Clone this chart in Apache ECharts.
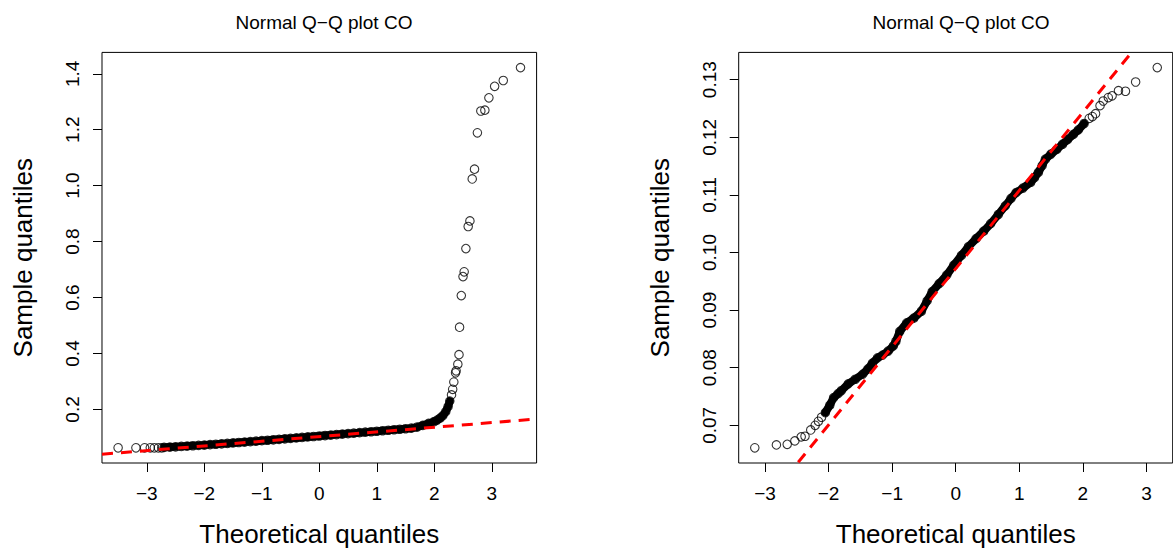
<!DOCTYPE html>
<html>
<head>
<meta charset="utf-8">
<script src="https://cdn.jsdelivr.net/npm/echarts@6/dist/echarts.min.js"></script>
<style>
html,body{margin:0;padding:0;background:#fff;}
#chart{width:1173px;height:552px;}
</style>
</head>
<body>
<div id="chart"></div>
<script>
// ---------- Data ----------
// Titles / labels
const titleText = 'Normal Q\u2212Q plot CO';
const xTitle = 'Theoretical quantiles';
const yTitle = 'Sample quantiles';

// Tick values
const xTicks = [-3, -2, -1, 0, 1, 2, 3];
const leftYTicks = [0.2, 0.4, 0.6, 0.8, 1.0, 1.2, 1.4];
const rightYTicks = [0.07, 0.08, 0.09, 0.10, 0.11, 0.12, 0.13];

// Left panel: lower tail points
const leftTailX = [-3.50, -3.19, -3.04, -2.94, -2.87, -2.80, -2.74];
const leftTailY = [0.063, 0.063, 0.063, 0.063, 0.063, 0.063, 0.063];
// Left panel: dense band (read along the band)
const leftBandX = [-2.70, -2.60, -2.50, -2.40, -2.30, -2.20, -2.10, -2.00, -1.90, -1.80, -1.70, -1.60, -1.50, -1.40, -1.30, -1.20, -1.10, -1.00, -0.90, -0.80, -0.70, -0.60, -0.50, -0.40, -0.30, -0.20, -0.10, 0.00, 0.10, 0.20, 0.30, 0.40, 0.50, 0.60, 0.70, 0.80, 0.90, 1.00, 1.10, 1.20, 1.30, 1.40, 1.50, 1.60, 1.70, 1.80, 1.90, 2.00, 2.05, 2.10, 2.15, 2.20, 2.24, 2.27];
const leftBandY = [0.0645, 0.0655, 0.0665, 0.0677, 0.0690, 0.0703, 0.0716, 0.0728, 0.0743, 0.0757, 0.0772, 0.0787, 0.0803, 0.0818, 0.0834, 0.0850, 0.0866, 0.0883, 0.0899, 0.0916, 0.0932, 0.0949, 0.0966, 0.0983, 0.1000, 0.1017, 0.1034, 0.1051, 0.1068, 0.1085, 0.1102, 0.1119, 0.1136, 0.1153, 0.1170, 0.1187, 0.1204, 0.1221, 0.1238, 0.1256, 0.1274, 0.1293, 0.1310, 0.1330, 0.1370, 0.1430, 0.1500, 0.1570, 0.1620, 0.1690, 0.1780, 0.1920, 0.2100, 0.2300];
// Left panel: upper outliers
const leftUpperX = [2.30, 2.32, 2.34, 2.37, 2.38, 2.41, 2.43, 2.44, 2.47, 2.50, 2.52, 2.55, 2.59, 2.62, 2.66, 2.70, 2.75, 2.81, 2.88, 2.95, 3.05, 3.20, 3.50];
const leftUpperY = [0.252, 0.272, 0.298, 0.331, 0.338, 0.362, 0.396, 0.494, 0.607, 0.675, 0.692, 0.775, 0.854, 0.874, 1.024, 1.059, 1.189, 1.267, 1.270, 1.314, 1.355, 1.376, 1.422];
// Left panel: reference (qq) line end points
const leftLineX = [-3.78, 3.78];
const leftLineY = [0.040, 0.166];

// Right panel: lower tail points
const rightTailX = [-3.16, -2.82, -2.65, -2.53, -2.43, -2.37, -2.28, -2.21, -2.16, -2.11];
const rightTailY = [0.0661, 0.0666, 0.0667, 0.0673, 0.0680, 0.0681, 0.0692, 0.0700, 0.0707, 0.0714];
// Right panel: dense band
const rightBandX = [-2.05, -1.98, -1.92, -1.85, -1.80, -1.69, -1.58, -1.46, -1.38, -1.31, -1.23, -1.15, -1.06, -0.98, -0.94, -0.88, -0.77, -0.66, -0.54, -0.45, -0.37, -0.26, -0.14, -0.03, 0.09, 0.20, 0.32, 0.44, 0.55, 0.67, 0.78, 0.87, 0.95, 1.06, 1.18, 1.24, 1.30, 1.36, 1.41, 1.50, 1.59, 1.68, 1.76, 1.85, 1.93, 2.02];
const rightBandY = [0.0722, 0.0735, 0.0748, 0.0755, 0.0760, 0.0772, 0.0780, 0.0789, 0.0798, 0.0808, 0.0817, 0.0822, 0.0829, 0.0838, 0.0846, 0.0863, 0.0878, 0.0886, 0.0898, 0.0916, 0.0932, 0.0946, 0.0961, 0.0978, 0.0995, 0.1010, 0.1024, 0.1037, 0.1050, 0.1066, 0.1081, 0.1094, 0.1104, 0.1112, 0.1122, 0.1130, 0.1139, 0.1151, 0.1162, 0.1171, 0.1179, 0.1188, 0.1196, 0.1205, 0.1213, 0.1224];
// Right panel: upper tail points
const rightUpperX = [2.10, 2.15, 2.20, 2.27, 2.32, 2.40, 2.46, 2.56, 2.67, 2.83, 3.17];
const rightUpperY = [0.1233, 0.1236, 0.1241, 0.1255, 0.1263, 0.1269, 0.1272, 0.1281, 0.1280, 0.1296, 0.1321];
// Right panel: reference line end points
const rightLineX = [-3.42, 3.42];
const rightLineY = [0.0508, 0.1436];

// ---------- helpers ----------
const pairs = (xs, ys) => xs.map((x, i) => [x, ys[i]]);
const FONT = "'Liberation Sans', Arial, Helvetica, sans-serif";
const minus = s => String(s).replace('-', '\u2212');

function xAxisCfg(gridIndex, min, max) {
  return {
    type: 'value', gridIndex, min, max, position: 'bottom',
    axisLine: { show: false, onZero: false },
    axisTick: { show: true, inside: false, length: 9, customValues: xTicks, lineStyle: { color: '#000', width: 1 } },
    axisLabel: { show: true, customValues: xTicks, margin: 21, fontSize: 19, color: '#000', fontFamily: FONT,
      formatter: v => minus(Math.round(v)) },
    splitLine: { show: false },
    name: xTitle, nameLocation: 'middle', nameGap: 58,
    nameTextStyle: { fontSize: 26, color: '#000', fontFamily: FONT }
  };
}
function yAxisCfg(gridIndex, min, max, ticks, dec) {
  return {
    type: 'value', gridIndex, min, max, position: 'left',
    axisLine: { show: false, onZero: false },
    axisTick: { show: true, inside: false, length: 9, customValues: ticks, lineStyle: { color: '#000', width: 1 } },
    axisLabel: { show: true, customValues: ticks, rotate: 90, margin: 20, fontSize: 19, color: '#000', fontFamily: FONT,
      formatter: v => Number(v).toFixed(dec) },
    splitLine: { show: false },
    name: yTitle, nameLocation: 'middle', nameGap: 66,
    nameTextStyle: { fontSize: 26, color: '#000', fontFamily: FONT }
  };
}
const ring = { color: 'rgba(0,0,0,0)', borderColor: '#000', borderWidth: 1.1 };
function pts(xi, data) {
  return { type: 'scatter', xAxisIndex: xi, yAxisIndex: xi, data, symbol: 'circle', symbolSize: 8.5,
    itemStyle: ring, z: 3, silent: true };
}
function band(xi, data, w) {
  return { type: 'line', xAxisIndex: xi, yAxisIndex: xi, data, showSymbol: false, symbol: 'none',
    lineStyle: { color: '#000', width: w, cap: 'round', join: 'round' }, z: 2, silent: true };
}
function refLine(xi, data) {
  return { type: 'line', xAxisIndex: xi, yAxisIndex: xi, data, showSymbol: false, symbol: 'none', clip: true,
    lineStyle: { color: '#FF0000', width: 3, type: [11, 8] }, z: 5, silent: true };
}

const chart = echarts.init(document.getElementById('chart'), null, { renderer: 'svg' });
chart.setOption({
  animation: false,
  backgroundColor: '#fff',
  title: [
    { text: titleText, left: 319, top: 8, textAlign: 'center',
      textStyle: { fontSize: 19, fontWeight: 'normal', color: '#000', fontFamily: FONT } },
    { text: titleText, left: 956, top: 8, textAlign: 'center',
      textStyle: { fontSize: 19, fontWeight: 'normal', color: '#000', fontFamily: FONT } }
  ],
  grid: [
    { left: 102, top: 52.4, width: 434.6, height: 414.5, show: true, borderColor: '#000', borderWidth: 1, backgroundColor: 'transparent', containLabel: false },
    { left: 738.7, top: 52.4, width: 434, height: 414.5, show: true, borderColor: '#000', borderWidth: 1, backgroundColor: 'transparent', containLabel: false }
  ],
  xAxis: [ xAxisCfg(0, -3.78, 3.78), xAxisCfg(1, -3.413, 3.413) ],
  yAxis: [ yAxisCfg(0, 0.0086, 1.4764, leftYTicks, 1), yAxisCfg(1, 0.06346, 0.13474, rightYTicks, 2) ],
  series: [
    band(0, pairs(leftBandX, leftBandY), 8),
    pts(0, pairs(leftTailX, leftTailY)),
    pts(0, pairs(leftBandX, leftBandY)),
    pts(0, pairs(leftUpperX, leftUpperY)),
    refLine(0, pairs(leftLineX, leftLineY)),
    band(1, pairs(rightBandX, rightBandY), 8),
    pts(1, pairs(rightTailX, rightTailY)),
    pts(1, pairs(rightBandX, rightBandY)),
    pts(1, pairs(rightUpperX, rightUpperY)),
    refLine(1, pairs(rightLineX, rightLineY))
  ]
});
</script>
</body>
</html>
